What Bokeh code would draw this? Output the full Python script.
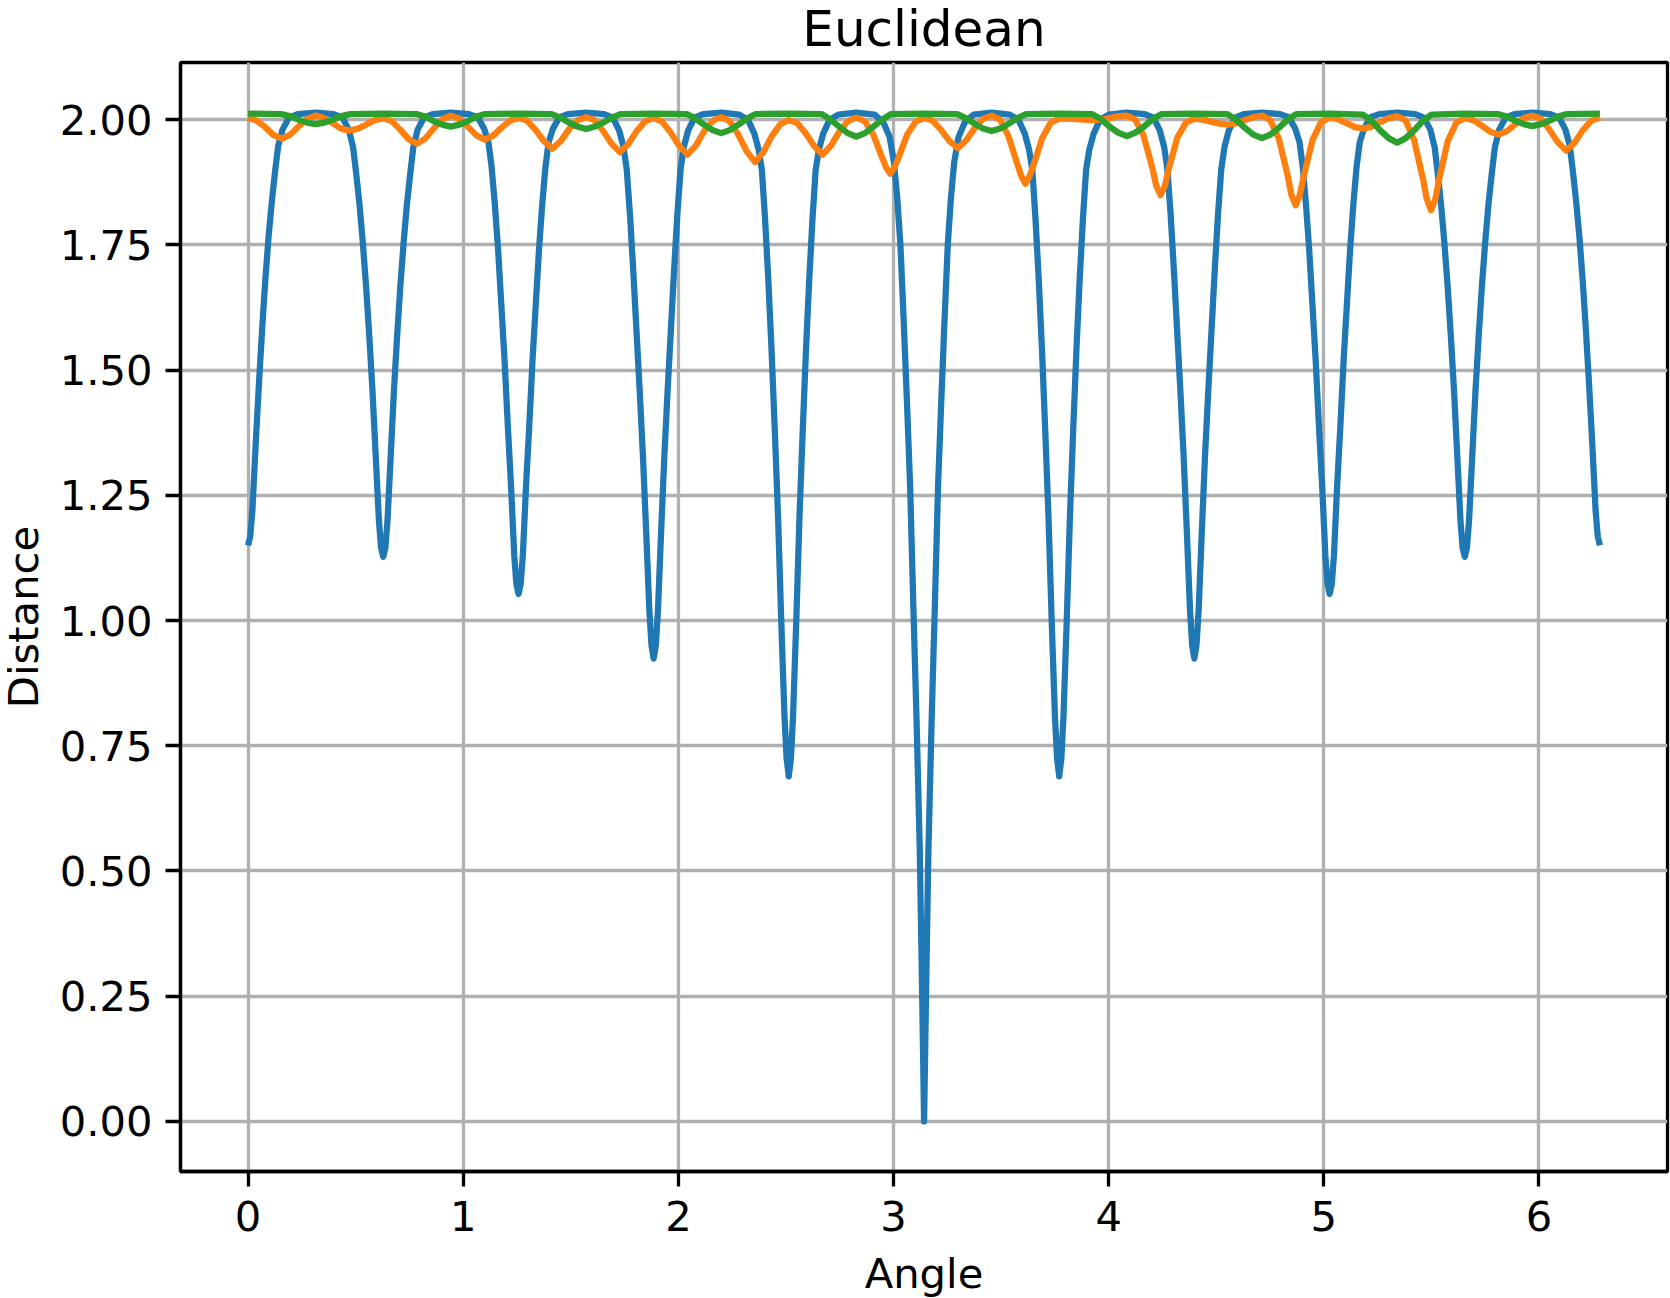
from bokeh.plotting import figure
from bokeh.models import Range1d, FixedTicker, PrintfTickFormatter
from bokeh.embed import file_html
from bokeh.resources import INLINE

# ---------------- data ----------------
blue_angle = [
    0.000, 0.010, 0.020, 0.035, 0.050, 0.065, 0.080, 0.095, 0.110, 0.125, 0.140, 0.160, 0.190, 0.230, 0.314,
    0.398, 0.438, 0.468, 0.488, 0.503, 0.518, 0.533, 0.548, 0.563, 0.578, 0.593, 0.608, 0.618, 0.628,
    0.638, 0.648, 0.663, 0.678, 0.693, 0.708, 0.723, 0.738, 0.753, 0.768, 0.788, 0.818, 0.858, 0.942,
    1.027, 1.067, 1.097, 1.117, 1.132, 1.147, 1.162, 1.177, 1.192, 1.207, 1.222, 1.237, 1.247, 1.257,
    1.267, 1.277, 1.292, 1.307, 1.322, 1.337, 1.352, 1.367, 1.382, 1.397, 1.417, 1.447, 1.487, 1.571,
    1.655, 1.695, 1.725, 1.745, 1.760, 1.775, 1.790, 1.805, 1.820, 1.835, 1.850, 1.865, 1.875, 1.885,
    1.895, 1.905, 1.920, 1.935, 1.950, 1.965, 1.980, 1.995, 2.010, 2.025, 2.045, 2.075, 2.115, 2.199,
    2.283, 2.323, 2.353, 2.373, 2.388, 2.403, 2.418, 2.433, 2.448, 2.463, 2.478, 2.493, 2.503, 2.513,
    2.523, 2.533, 2.548, 2.563, 2.578, 2.593, 2.608, 2.623, 2.638, 2.653, 2.673, 2.703, 2.743, 2.827,
    2.912, 2.952, 2.982, 3.002, 3.017, 3.032, 3.047, 3.062, 3.077, 3.092, 3.107, 3.122, 3.132, 3.142,
    3.152, 3.162, 3.177, 3.192, 3.207, 3.222, 3.237, 3.252, 3.267, 3.282, 3.302, 3.332, 3.372, 3.456,
    3.540, 3.580, 3.610, 3.630, 3.645, 3.660, 3.675, 3.690, 3.705, 3.720, 3.735, 3.750, 3.760, 3.770,
    3.780, 3.790, 3.805, 3.820, 3.835, 3.850, 3.865, 3.880, 3.895, 3.910, 3.930, 3.960, 4.000, 4.084,
    4.168, 4.208, 4.238, 4.258, 4.273, 4.288, 4.303, 4.318, 4.333, 4.348, 4.363, 4.378, 4.388, 4.398,
    4.408, 4.418, 4.433, 4.448, 4.463, 4.478, 4.493, 4.508, 4.523, 4.538, 4.558, 4.588, 4.628, 4.712,
    4.797, 4.837, 4.867, 4.887, 4.902, 4.917, 4.932, 4.947, 4.962, 4.977, 4.992, 5.007, 5.017, 5.027,
    5.037, 5.047, 5.062, 5.077, 5.092, 5.107, 5.122, 5.137, 5.152, 5.167, 5.187, 5.217, 5.257, 5.341,
    5.425, 5.465, 5.495, 5.515, 5.530, 5.545, 5.560, 5.575, 5.590, 5.605, 5.620, 5.635, 5.645, 5.655,
    5.665, 5.675, 5.690, 5.705, 5.720, 5.735, 5.750, 5.765, 5.780, 5.795, 5.815, 5.845, 5.885, 5.969,
    6.053, 6.093, 6.123, 6.143, 6.158, 6.173, 6.188, 6.203, 6.218, 6.233, 6.248, 6.263, 6.273, 6.283,
]
blue_distance = [
    1.150, 1.168, 1.220, 1.350, 1.470, 1.580, 1.680, 1.765, 1.835, 1.895, 1.948, 1.980, 2.004, 2.011, 2.014,
    2.011, 2.004, 1.980, 1.945, 1.890, 1.830, 1.755, 1.670, 1.570, 1.460, 1.330, 1.200, 1.145, 1.127,
    1.145, 1.200, 1.330, 1.460, 1.570, 1.670, 1.755, 1.830, 1.890, 1.945, 1.980, 2.004, 2.011, 2.014,
    2.011, 2.005, 1.982, 1.955, 1.905, 1.830, 1.740, 1.630, 1.520, 1.390, 1.270, 1.130, 1.073, 1.053,
    1.073, 1.130, 1.270, 1.390, 1.520, 1.630, 1.740, 1.830, 1.905, 1.955, 1.982, 2.005, 2.011, 2.014,
    2.011, 2.004, 1.978, 1.945, 1.900, 1.810, 1.700, 1.580, 1.460, 1.330, 1.180, 1.020, 0.950, 0.924,
    0.950, 1.020, 1.180, 1.330, 1.460, 1.580, 1.700, 1.810, 1.900, 1.945, 1.978, 2.004, 2.011, 2.014,
    2.010, 2.000, 1.972, 1.940, 1.900, 1.800, 1.680, 1.540, 1.380, 1.210, 1.000, 0.810, 0.725, 0.689,
    0.725, 0.810, 1.000, 1.210, 1.380, 1.540, 1.680, 1.800, 1.900, 1.940, 1.972, 2.000, 2.010, 2.014,
    2.010, 1.995, 1.965, 1.915, 1.845, 1.750, 1.600, 1.440, 1.270, 1.030, 0.800, 0.540, 0.280, 0.000,
    0.280, 0.540, 0.800, 1.030, 1.270, 1.440, 1.600, 1.750, 1.845, 1.915, 1.965, 1.995, 2.010, 2.014,
    2.010, 2.000, 1.972, 1.940, 1.900, 1.800, 1.680, 1.540, 1.380, 1.210, 1.000, 0.810, 0.725, 0.689,
    0.725, 0.810, 1.000, 1.210, 1.380, 1.540, 1.680, 1.800, 1.900, 1.940, 1.972, 2.000, 2.010, 2.014,
    2.011, 2.004, 1.978, 1.945, 1.900, 1.810, 1.700, 1.580, 1.460, 1.330, 1.180, 1.020, 0.950, 0.924,
    0.950, 1.020, 1.180, 1.330, 1.460, 1.580, 1.700, 1.810, 1.900, 1.945, 1.978, 2.004, 2.011, 2.014,
    2.011, 2.005, 1.982, 1.955, 1.905, 1.830, 1.740, 1.630, 1.520, 1.390, 1.270, 1.130, 1.073, 1.053,
    1.073, 1.130, 1.270, 1.390, 1.520, 1.630, 1.740, 1.830, 1.905, 1.955, 1.982, 2.005, 2.011, 2.014,
    2.011, 2.004, 1.980, 1.945, 1.890, 1.830, 1.755, 1.670, 1.570, 1.460, 1.330, 1.200, 1.145, 1.127,
    1.145, 1.200, 1.330, 1.460, 1.570, 1.670, 1.755, 1.830, 1.890, 1.945, 1.980, 2.004, 2.011, 2.014,
    2.011, 2.004, 1.980, 1.948, 1.895, 1.835, 1.765, 1.680, 1.580, 1.470, 1.350, 1.220, 1.168, 1.150,
]

orange_angle = [
    0.000, 0.039, 0.079, 0.118, 0.157, 0.196, 0.236, 0.275, 0.314,
    0.353, 0.393, 0.432, 0.471, 0.510, 0.550, 0.589, 0.628,
    0.667, 0.707, 0.746, 0.785, 0.824, 0.864, 0.903, 0.942,
    0.981, 1.021, 1.060, 1.100, 1.139, 1.178, 1.218, 1.257,
    1.296, 1.335, 1.375, 1.414, 1.453, 1.492, 1.532, 1.571,
    1.610, 1.649, 1.689, 1.728, 1.767, 1.806, 1.846, 1.885,
    1.924, 1.963, 2.003, 2.042, 2.081, 2.120, 2.160, 2.199,
    2.238, 2.277, 2.317, 2.356, 2.395, 2.434, 2.474, 2.513,
    2.552, 2.591, 2.631, 2.670, 2.709, 2.748, 2.788, 2.827,
    2.866, 2.906, 2.945, 2.965, 2.985, 3.005, 3.024, 3.063, 3.103, 3.142,
    3.181, 3.220, 3.260, 3.299, 3.338, 3.377, 3.417, 3.456,
    3.495, 3.534, 3.574, 3.593, 3.613, 3.633, 3.652, 3.691, 3.731, 3.770,
    3.809, 3.848, 3.888, 3.927, 3.966, 4.005, 4.045, 4.084,
    4.123, 4.162, 4.202, 4.221, 4.241, 4.261, 4.280, 4.319, 4.359, 4.398,
    4.437, 4.476, 4.516, 4.555, 4.594, 4.633, 4.673, 4.712,
    4.751, 4.790, 4.830, 4.849, 4.869, 4.889, 4.908, 4.948, 4.987, 5.027,
    5.066, 5.105, 5.145, 5.184, 5.223, 5.262, 5.302, 5.341,
    5.380, 5.419, 5.459, 5.478, 5.498, 5.518, 5.537, 5.576, 5.616, 5.655,
    5.694, 5.734, 5.773, 5.812, 5.851, 5.891, 5.930, 5.969,
    6.008, 6.047, 6.087, 6.126, 6.165, 6.204, 6.244, 6.283,
]
orange_distance = [
    2.003, 1.998, 1.985, 1.969, 1.962, 1.970, 1.987, 2.002, 2.008,
    2.003, 1.993, 1.982, 1.978, 1.982, 1.990, 1.999, 2.003,
    1.997, 1.980, 1.961, 1.952, 1.962, 1.983, 2.001, 2.008,
    2.002, 1.986, 1.969, 1.960, 1.968, 1.984, 1.998, 2.003,
    1.998, 1.980, 1.957, 1.942, 1.957, 1.981, 1.999, 2.005,
    1.999, 1.978, 1.952, 1.935, 1.951, 1.977, 1.997, 2.003,
    1.996, 1.975, 1.948, 1.930, 1.948, 1.977, 1.998, 2.005,
    1.997, 1.971, 1.937, 1.915, 1.935, 1.967, 1.991, 1.999,
    1.993, 1.973, 1.947, 1.930, 1.948, 1.976, 1.997, 2.004,
    1.997, 1.970, 1.926, 1.905, 1.892, 1.905, 1.925, 1.970, 1.996, 2.003,
    1.998, 1.980, 1.957, 1.943, 1.959, 1.983, 2.002, 2.008,
    2.000, 1.967, 1.913, 1.888, 1.872, 1.888, 1.911, 1.963, 1.994, 2.002,
    2.002, 2.001, 2.000, 1.999, 2.000, 2.003, 2.007, 2.008,
    2.000, 1.968, 1.905, 1.868, 1.849, 1.867, 1.903, 1.964, 1.994, 2.002,
    2.000, 1.996, 1.992, 1.990, 1.993, 1.999, 2.005, 2.008,
    1.999, 1.963, 1.892, 1.850, 1.829, 1.850, 1.890, 1.960, 1.995, 2.004,
    2.001, 1.993, 1.985, 1.982, 1.986, 1.995, 2.003, 2.007,
    1.998, 1.960, 1.885, 1.842, 1.819, 1.841, 1.883, 1.957, 1.994, 2.003,
    1.999, 1.988, 1.976, 1.970, 1.977, 1.991, 2.003, 2.008,
    2.002, 1.981, 1.955, 1.938, 1.954, 1.979, 1.998, 2.004,
]

green_angle = [
    0.000, 0.154, 0.194, 0.234, 0.274, 0.314, 0.354, 0.394, 0.434, 0.474,
    0.628, 0.782, 0.822, 0.862, 0.902, 0.942, 0.982, 1.022, 1.062, 1.102,
    1.257, 1.411, 1.451, 1.491, 1.531, 1.571, 1.611, 1.651, 1.691, 1.731,
    1.885, 2.039, 2.079, 2.119, 2.159, 2.199, 2.239, 2.279, 2.319, 2.359,
    2.513, 2.667, 2.707, 2.747, 2.787, 2.827, 2.867, 2.907, 2.947, 2.987,
    3.142, 3.296, 3.336, 3.376, 3.416, 3.456, 3.496, 3.536, 3.576, 3.616,
    3.770, 3.924, 3.964, 4.004, 4.044, 4.084, 4.124, 4.164, 4.204, 4.244,
    4.398, 4.552, 4.592, 4.632, 4.672, 4.712, 4.752, 4.792, 4.832, 4.872,
    5.027, 5.181, 5.221, 5.261, 5.301, 5.341, 5.381, 5.421, 5.461, 5.501,
    5.655, 5.809, 5.849, 5.889, 5.929, 5.969, 6.009, 6.049, 6.089, 6.129,
    6.283,
]
green_distance = [
    2.012, 2.011, 2.007, 2.000, 1.994, 1.991, 1.994, 2.000, 2.007, 2.011,
    2.012, 2.011, 2.006, 1.997, 1.990, 1.986, 1.990, 1.997, 2.006, 2.011,
    2.012, 2.011, 2.004, 1.994, 1.986, 1.981, 1.986, 1.994, 2.004, 2.011,
    2.012, 2.011, 2.002, 1.990, 1.979, 1.973, 1.979, 1.990, 2.002, 2.011,
    2.012, 2.011, 2.000, 1.986, 1.973, 1.966, 1.973, 1.986, 2.000, 2.011,
    2.012, 2.011, 2.003, 1.992, 1.982, 1.977, 1.982, 1.992, 2.003, 2.011,
    2.012, 2.011, 2.001, 1.986, 1.974, 1.967, 1.974, 1.986, 2.001, 2.011,
    2.012, 2.011, 2.000, 1.984, 1.970, 1.963, 1.970, 1.984, 2.000, 2.011,
    2.012, 2.010, 1.998, 1.979, 1.963, 1.954, 1.963, 1.979, 1.998, 2.010,
    2.012, 2.011, 2.006, 1.998, 1.991, 1.987, 1.991, 1.998, 2.006, 2.011,
    2.012,
]

x_ticks = [0, 1, 2, 3, 4, 5, 6]
y_ticks = [0.0, 0.25, 0.5, 0.75, 1.0, 1.25, 1.5, 1.75, 2.0]
title_text = "Euclidean"
x_label = "Angle"
y_label = "Distance"

# ---------------- figure ----------------
FONT = "DejaVu Sans"
# the canvas is slightly larger than the window and shifted up/left
SHIFT_TOP, SHIFT_LEFT = 26, 14
BT, BL, BR, BB = 62 + SHIFT_TOP, 180 + SHIFT_LEFT, 3, 127
FW, FH = 1487, 1109

p = figure(width=BL + FW + BR, height=BT + FH + BB,
           frame_width=FW, frame_height=FH,
           output_backend="svg", toolbar_location=None,
           x_range=Range1d(-0.3142, 6.5973), y_range=Range1d(-0.100, 2.114),
           min_border_left=BL, min_border_right=BR, min_border_top=BT,
           min_border_bottom=BB,
           styles={"margin-top": f"-{SHIFT_TOP}px", "margin-left": f"-{SHIFT_LEFT}px"})

p.background_fill_color = "white"
p.border_fill_color = "white"
p.outline_line_color = "black"
p.outline_line_width = 3.3

p.title.text = title_text
p.title.align = "center"
p.title.vertical_align = "bottom"
p.title.standoff = 10
p.title.text_font = FONT
p.title.text_font_size = "50px"
p.title.text_font_style = "normal"
p.title.text_color = "black"

p.xaxis.ticker = FixedTicker(ticks=x_ticks)
p.yaxis.ticker = FixedTicker(ticks=y_ticks)
p.yaxis.formatter = PrintfTickFormatter(format="%.2f")

for ax in (p.xaxis, p.yaxis):
    ax.axis_line_color = "black"
    ax.axis_line_width = 3.3
    ax.major_tick_line_color = "black"
    ax.major_tick_line_width = 3.3
    ax.major_tick_out = 15
    ax.major_tick_in = 0
    ax.minor_tick_line_color = None
    ax.major_label_text_font = FONT
    ax.major_label_text_font_size = "41.7px"
    ax.major_label_text_color = "black"
    ax.axis_label_text_font = FONT
    ax.axis_label_text_font_size = "41.7px"
    ax.axis_label_text_font_style = "normal"
    ax.axis_label_text_color = "black"

p.xaxis.axis_label = x_label
p.yaxis.axis_label = y_label
p.xaxis.major_label_standoff = 14
p.xaxis.axis_label_standoff = 15
p.yaxis.major_label_standoff = 13
p.yaxis.axis_label_standoff = 9

p.grid.grid_line_color = "#b0b0b0"
p.grid.grid_line_width = 3.3

lw = 6.25
p.line(blue_angle, blue_distance, line_color="#1f77b4", line_width=lw, line_join="round")
p.line(orange_angle, orange_distance, line_color="#ff7f0e", line_width=lw, line_join="round")
p.line(green_angle, green_distance, line_color="#2ca02c", line_width=lw, line_join="round")

open("out.html", "w").write(file_html(p, INLINE))
